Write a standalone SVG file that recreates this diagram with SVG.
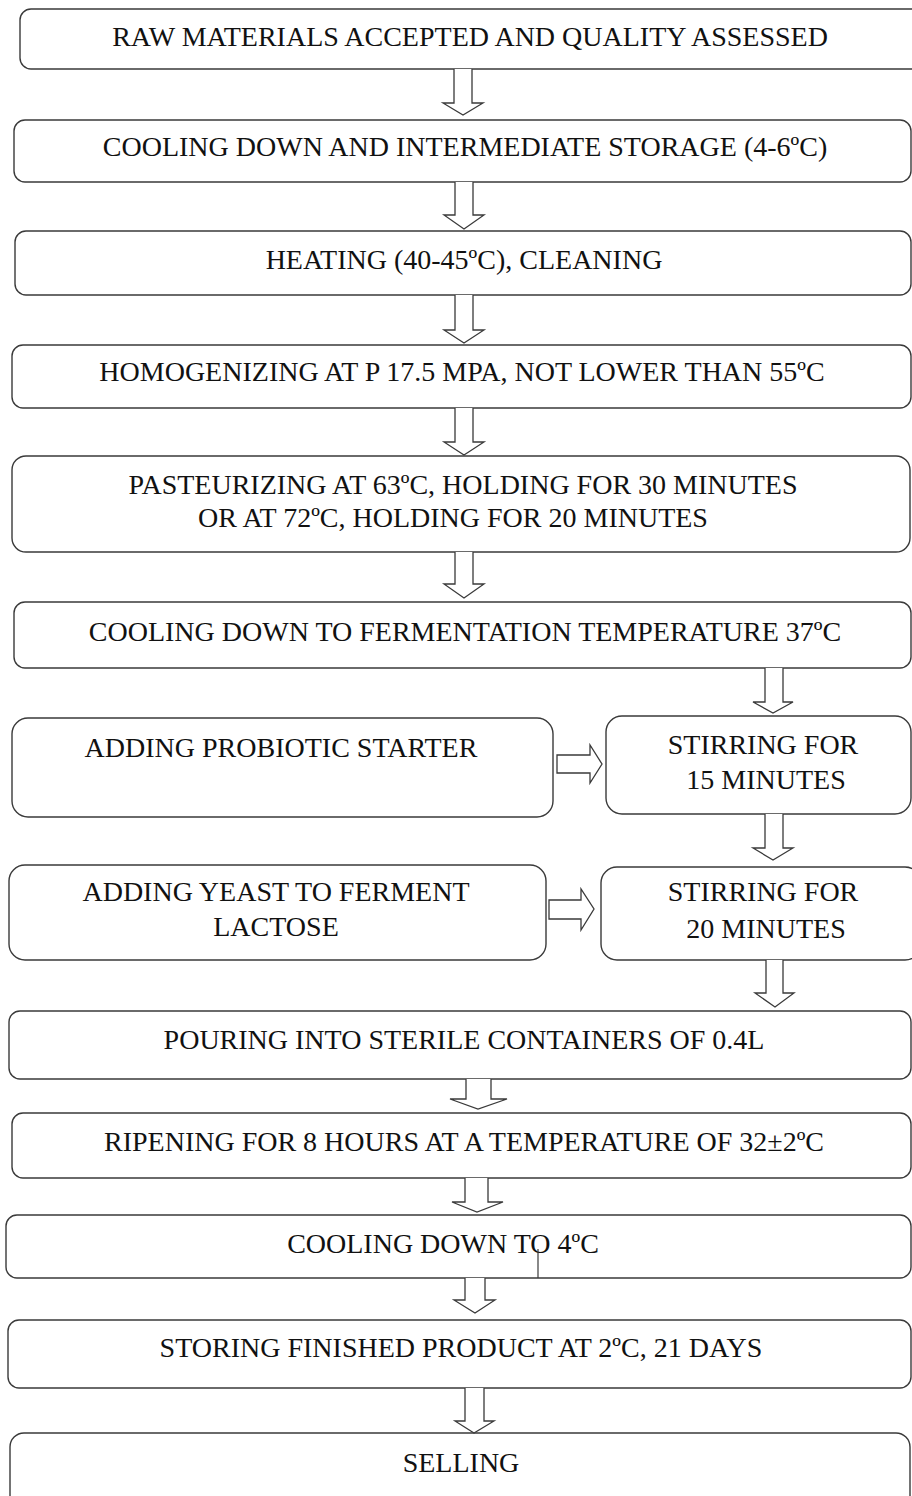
<svg xmlns="http://www.w3.org/2000/svg" width="912" height="1496" viewBox="0 0 912 1496">
<style>
.box{fill:#fff;stroke:#3a3a3a;stroke-width:1.4}
.arr{fill:#fff;stroke:#3a3a3a;stroke-width:1.3;stroke-linejoin:miter}
text{font-family:"Liberation Serif","Times New Roman",serif;font-size:28px;fill:#111;text-anchor:middle}
</style>
<rect width="912" height="1496" fill="#fff"/>
<g id="n1"><rect class="box" x="20" y="9" width="910" height="60" rx="11"/><text x="470" y="46">RAW MATERIALS ACCEPTED AND QUALITY ASSESSED</text></g>
<g id="n2"><rect class="box" x="14" y="120" width="897" height="62" rx="11"/><text x="465" y="156">COOLING DOWN AND INTERMEDIATE STORAGE (4-6ºC)</text></g>
<g id="n3"><rect class="box" x="15" y="231" width="896" height="64" rx="11"/><text x="464" y="269">HEATING (40-45ºC), CLEANING</text></g>
<g id="n4"><rect class="box" x="12" y="345" width="899" height="63" rx="11"/><text x="462" y="381">HOMOGENIZING AT P 17.5 MPA, NOT LOWER THAN 55ºC</text></g>
<g id="n5"><rect class="box" x="12" y="456" width="898" height="96" rx="14"/><text x="463" y="494">PASTEURIZING AT 63ºC, HOLDING FOR 30 MINUTES</text><text x="453" y="527">OR AT 72ºC, HOLDING FOR 20 MINUTES</text></g>
<g id="n6"><rect class="box" x="14" y="602" width="897" height="66" rx="11"/><text x="465" y="641">COOLING DOWN TO FERMENTATION TEMPERATURE 37ºC</text></g>
<g id="n7"><rect class="box" x="12" y="718" width="541" height="99" rx="16"/><text x="281" y="757">ADDING PROBIOTIC STARTER</text></g>
<g id="n8"><rect class="box" x="606" y="716" width="305" height="98" rx="16"/><text x="763" y="754">STIRRING FOR</text><text x="766" y="789">15 MINUTES</text></g>
<g id="n9"><rect class="box" x="9" y="865" width="537" height="95" rx="16"/><text x="276" y="901">ADDING YEAST TO FERMENT</text><text x="276" y="936">LACTOSE</text></g>
<g id="n10"><rect class="box" x="601" y="867" width="320" height="93" rx="16"/><text x="763" y="901">STIRRING FOR</text><text x="766" y="938">20 MINUTES</text></g>
<g id="n11"><rect class="box" x="9" y="1011" width="902" height="68" rx="11"/><text x="464" y="1049">POURING INTO STERILE CONTAINERS OF 0.4L</text></g>
<g id="n12"><rect class="box" x="12" y="1113" width="899" height="65" rx="11"/><text x="464" y="1151">RIPENING FOR 8 HOURS AT A TEMPERATURE OF 32±2ºC</text></g>
<g id="n13"><rect class="box" x="6" y="1215" width="905" height="63" rx="11"/><text x="443" y="1253">COOLING DOWN TO 4ºC</text></g>
<g id="n14"><rect class="box" x="8" y="1320" width="903" height="68" rx="11"/><text x="461" y="1357">STORING FINISHED PRODUCT AT 2ºC, 21 DAYS</text></g>
<g id="n15"><rect class="box" x="10" y="1433" width="900" height="80" rx="14"/><text x="461" y="1472">SELLING</text></g>
<g id="connectors">
<path class="arr" d="M454,69 V103 H443 L463,115 L483,103 H472 V69"/>
<path class="arr" d="M455,182 V215 H444 L464,229 L484,215 H473 V182"/>
<path class="arr" d="M455,295 V330 H444 L464,343 L484,330 H473 V295"/>
<path class="arr" d="M455,408 V442 H444 L464,455 L484,442 H473 V408"/>
<path class="arr" d="M455,552 V584 H444 L464,598 L484,584 H473 V552"/>
<path class="arr" d="M765,668 V702 H753 L773,713 L793,702 H783 V668"/>
<path class="arr" d="M765,814 V848 H753 L773,860 L793,848 H783 V814"/>
<path class="arr" d="M766,960 V993 H755 L775,1007 L794,993 H783 V960"/>
<path class="arr" d="M557,755 H590 V745 L602,764 L590,783 V773 H557 Z"/>
<path class="arr" d="M549,900 H581 V889 L594,909 L581,930 V919 H549 Z"/>
<path class="arr" d="M466,1079 V1099 H450 L478,1109 L507,1099 H491 V1079"/>
<path class="arr" d="M465,1178 V1202 H452 L477,1212 L503,1202 H488 V1178"/>
<path class="arr" d="M465,1278 V1300 H454 L475,1313 L495,1300 H485 V1278"/>
<path class="arr" d="M465,1388 V1421 H455 L474,1433 L494,1421 H484 V1388"/>
<line x1="538" y1="1249" x2="538" y2="1278" stroke="#3a3a3a" stroke-width="1.2"/>
</g>
</svg>
